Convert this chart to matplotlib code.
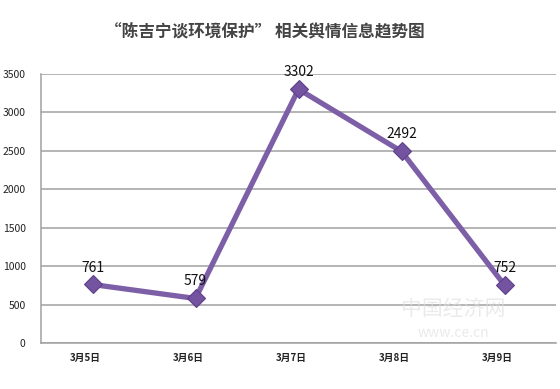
import matplotlib.pyplot as plt
import numpy as np

plt.rcParams['font.family'] = ['Noto Sans CJK SC', 'DejaVu Sans']

# データ
dates = ['3月5日', '3月6日', '3月7日', '3月8日', '3月9日']
counts = [761, 579, 3302, 2492, 752]
y_ticks = [0, 500, 1000, 1500, 2000, 2500, 3000, 3500]

fig = plt.figure(figsize=(5.6, 3.89), dpi=100)
ax = fig.add_axes([0.0732, 0.1183, 0.9198, 0.6915])

x = np.arange(len(dates))
ax.plot(x, counts, color='#7d5fa8', linewidth=3.8, solid_capstyle='butt', zorder=3)
ax.plot(x, counts, linestyle='none', marker='D', markersize=9,
        color='#7453a0', markeredgecolor='#5e3f8a', markeredgewidth=0.8, zorder=4)

for xi, v in zip(x, counts):
    ax.text(xi, v + 130, str(v), ha='center', va='bottom', fontsize=10, color='#111111', zorder=5)

ax.set_xlim(-0.5, 4.5)
ax.set_ylim(0, 3500)
ax.set_yticks(y_ticks)
ax.set_yticklabels([str(t) for t in y_ticks], fontsize=7.5, color='#222222')
ax.set_xticks(x - 0.07)
ax.set_xticklabels(dates, fontsize=7, color='#222222', fontweight='bold')
ax.tick_params(axis='both', length=0)
ax.tick_params(axis='y', pad=11)
ax.tick_params(axis='x', pad=7)

ax.grid(axis='y', color='#a0a0a0', linewidth=1.1)
ax.set_axisbelow(True)
for s in ['top', 'right']:
    ax.spines[s].set_visible(False)
ax.spines['left'].set_color('#a0a0a0')
ax.spines['bottom'].set_color('#a0a0a0')
ax.spines['left'].set_linewidth(1.1)
ax.spines['bottom'].set_linewidth(1.1)

fig.text(0.472, 0.918, '“陈吉宁谈环境保护” 相关舆情信息趋势图', ha='center', va='center',
         fontsize=12, fontweight='bold', color='#444444')

# 透かし
fig.text(0.81, 0.205, '中国经济网', ha='center', va='center', fontsize=15,
         color='#dddddd', alpha=0.6)
fig.text(0.81, 0.145, 'www.ce.cn', ha='center', va='center', fontsize=10,
         color='#dddddd', alpha=0.6)

fig.savefig('out.png', dpi=100)
